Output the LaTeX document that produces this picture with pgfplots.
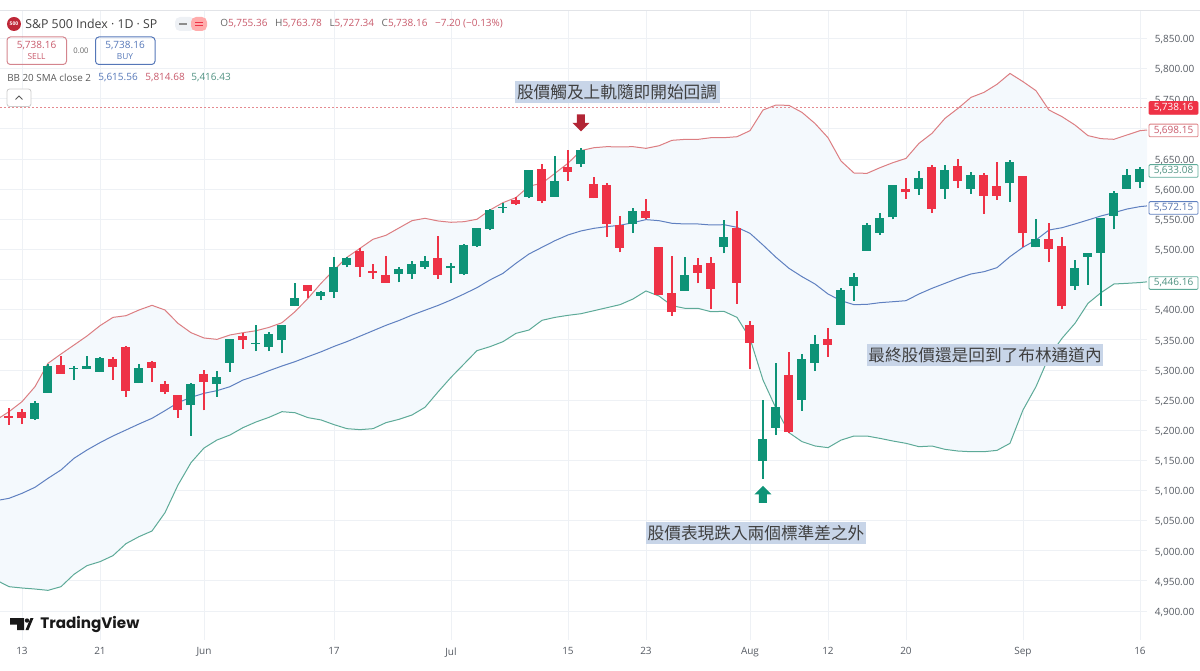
\documentclass[border=0pt]{standalone}
\usepackage{fontspec}
\usepackage{pgfplots}
\usepackage{pgfplotstable}
\pgfplotsset{compat=1.18}
\usepgfplotslibrary{fillbetween}
\setmainfont{Open Sans}
\newfontfamily\cjk{Noto Sans CJK TC}
\newfontfamily\logofont{Poppins}

\definecolor{cup}{HTML}{0E9377}
\definecolor{cdn}{HTML}{EE3246}
\definecolor{bandup}{HTML}{DC7E82}
\definecolor{bandlo}{HTML}{5DAA98}
\definecolor{bandmid}{HTML}{5F80C0}
\definecolor{bandfill}{HTML}{F4F9FD}
\definecolor{gridc}{HTML}{EEF1F5}
\definecolor{topline}{HTML}{E2E4E8}
\definecolor{tickc}{HTML}{555A62}
\definecolor{noteb}{HTML}{C8D5E8}
\definecolor{headred}{HTML}{C85A6B}
\definecolor{headblue}{HTML}{5577B8}
\definecolor{lastline}{HTML}{E58A8F}

% i open high low close
\pgfplotstableread{
i o h l c
-2 5186 5214 5184 5211
1 5219 5248 5217 5244.5
2 5262 5310 5262 5307
4 5301 5306 5283 5302.6
5 5302 5323 5301 5307
6 5297 5322 5296.5 5320
9 5279 5310 5278 5303
13 5241 5279 5191 5276
15 5276.6 5298 5255.5 5289
16 5312 5352 5297 5351.8
18 5343 5374.5 5331 5345
19 5338.6 5363.5 5331 5359
20 5349.6 5374 5327.5 5374
21 5406.6 5445 5406 5418.8
23 5422.7 5431.6 5416 5430
24 5428.8 5487 5419 5471.4
25 5474 5488 5470 5485
29 5459 5470 5445.4 5467
30 5459 5481 5451 5475
31 5470.8 5489 5468 5480.8
33 5468.6 5478 5445 5473
34 5458.7 5508.4 5457.6 5507.3
35 5505 5536 5504.6 5536
36 5534.4 5566.5 5532 5565.4
37 5569.2 5577.6 5561 5570
39 5587.6 5632.4 5584.8 5632.4
41 5587.6 5655 5587.6 5613.6
43 5641 5667.8 5637 5665
47 5542 5568 5528 5563
51 5431 5487 5431 5457
54 5504 5548.8 5493.5 5520.6
57 5148.9 5250 5119 5184.8
58 5204.2 5311 5192 5239
60 5250.6 5326 5232.4 5317.6
61 5312 5358 5299 5342.5
63 5374.6 5435.4 5374.6 5432.7
64 5439.9 5460.3 5414.4 5454
65 5498 5543 5498 5541
66 5527.8 5560 5524 5551.6
67 5553.3 5607 5550 5607
69 5600.3 5630.7 5590.3 5618.5
71 5600.3 5640 5584 5632.4
73 5600.3 5629 5592 5624
76 5609.7 5648.4 5579.3 5645.6
78 5503.5 5550.5 5503.5 5518
81 5439.9 5482.4 5433.2 5468.6
82 5487.4 5494.6 5441 5493.5
83 5494.6 5551.6 5406 5551.6
84 5555.5 5597.5 5533.4 5594
85 5600.3 5633 5600 5624
86 5612.4 5636 5602.5 5633
}\upcandles

\pgfplotstableread{
i o h l c
-1 5224 5236 5209 5221
0 5230.7 5234.5 5210.2 5219.6
3 5308 5323 5294 5294
7 5317.5 5322 5284 5305
8 5338.6 5339 5255.5 5265.5
10 5313.7 5314 5280.5 5303.7
11 5277 5281.6 5260 5263.9
12 5257.8 5258 5220.7 5233.4
14 5294 5300 5233 5280.5
17 5356 5360.7 5335 5349.6
22 5440.4 5441 5419 5431
26 5497.4 5501.8 5454.8 5471.4
27 5464.7 5475 5451 5461.4
28 5457.6 5489 5445 5444.8
32 5486 5522 5451 5457.6
38 5582 5587.6 5573 5574.8
40 5633.5 5641 5576.5 5580.9
42 5636.8 5665 5613.6 5629
44 5608 5619.6 5584.8 5584.8
45 5607 5611 5521 5542.2
46 5541 5556 5495.2 5502.4
48 5563 5583.7 5550 5551.6
49 5504.6 5504.6 5424.4 5424.4
50 5427 5489 5390 5396
52 5474.7 5485 5443.7 5461.4
53 5477.5 5488 5400.6 5435
55 5536 5564.3 5410 5444.3
56 5374.6 5381 5301 5344.7
59 5292 5329.8 5196 5197.5
62 5350.8 5369 5322 5342
68 5600.8 5619 5583.7 5594.7
70 5636.8 5640 5560 5567
72 5637.9 5650 5601.4 5613.6
74 5623.5 5626 5558.8 5589
75 5605.3 5645.6 5582 5589.2
77 5621.8 5621.8 5503.5 5526.7
79 5518 5543 5478.6 5501.3
80 5505.7 5521 5401 5406
}\downcandles

% i upper basis lower
\pgfplotstableread{
i up mid lo
-2 5216.8 5083 4951.4
-1 5230.7 5086.9 4940.3
0 5247.3 5095.2 4938.1
1 5272.2 5105.2 4936.4
2 5310.9 5120.1 4934.2
3 5326.4 5134 4940.3
4 5341.3 5153.3 4960.8
5 5356.3 5167.1 4975.2
6 5373.4 5179.3 4981.8
7 5387.2 5190.4 4991.8
8 5390 5200.3 5011.7
9 5399.4 5210.3 5023.3
10 5407.2 5219.7 5032.7
11 5399.4 5232.4 5063.1
12 5377.3 5245.7 5109
13 5361.8 5254.5 5146.1
14 5353 5261.2 5170.4
15 5350.7 5265.6 5183.7
16 5358 5272.2 5192
17 5361.8 5283.2 5204.2
18 5365 5290.4 5213.6
19 5370.6 5298.7 5221.3
20 5378.4 5306.5 5230.7
21 5396.6 5313.7 5229
22 5418.8 5322 5220.8
23 5443.7 5330 5217
24 5465.8 5339 5209.2
25 5486.9 5347 5202.5
26 5501.8 5356 5200.9
27 5516.8 5365 5202.5
28 5523.4 5374 5212.5
29 5535.6 5382 5218
30 5547.7 5391 5225.2
31 5551.6 5399 5238
32 5547.2 5407 5263.4
33 5545 5416 5287.7
34 5546 5426 5309.8
35 5550 5436.5 5332
36 5565.4 5449.3 5338.6
37 5577.6 5460.3 5346.9
38 5586 5477 5360.7
39 5605 5492.4 5366.2
40 5609.7 5503.5 5382.3
41 5626.3 5514.5 5387.2
42 5643 5524 5390.6
43 5664 5530.6 5393.3
44 5668.8 5535 5398.3
45 5670.5 5537.8 5403.3
46 5670 5540 5408.3
47 5670.5 5544.4 5417.7
48 5667.7 5549.4 5431
49 5672 5547.7 5422.6
50 5681 5543.3 5406.6
51 5682.6 5542.2 5402.2
52 5682.6 5542.2 5402.2
53 5685.4 5540.5 5396.6
54 5685.4 5541 5397.2
55 5687 5536.7 5387.2
56 5697 5526.7 5352.4
57 5731.3 5507.3 5283.3
58 5739.6 5486.9 5236.3
59 5739 5468.6 5195.9
60 5727.4 5454.8 5181
61 5709 5442.6 5173.8
62 5685.4 5426 5171
63 5646.7 5414.9 5183.5
64 5626.8 5408.3 5190.3
65 5626.2 5408.8 5190.3
66 5635.6 5411.6 5186.4
67 5644 5413.2 5182
68 5651 5414.9 5178.2
69 5676 5426 5172.6
70 5692.6 5435.4 5173.7
71 5717.5 5443.7 5168.2
72 5734 5452 5165.4
73 5752.3 5459.2 5164.3
74 5760.6 5463 5164.3
75 5774 5469.7 5166.5
76 5792 5488 5178.2
77 5778.4 5503.5 5233.5
78 5763.4 5515.6 5272.2
79 5731.3 5532.2 5322
80 5720.3 5536 5352.4
81 5706.4 5542.2 5377.3
82 5688.8 5548.8 5410.5
83 5683.8 5555.5 5428.2
84 5682.7 5561 5442.6
85 5689.9 5567 5443.7
86 5697 5571 5445
86.54 5698.15 5572.15 5446.16
}\bands

\pgfdeclareplotmark{dnarrow}{%
  \pgfpathmoveto{\pgfqpoint{-2.4pt}{5.1pt}}\pgfpathlineto{\pgfqpoint{2.4pt}{5.1pt}}%
  \pgfpathlineto{\pgfqpoint{2.4pt}{0pt}}\pgfpathlineto{\pgfqpoint{5.1pt}{0pt}}%
  \pgfpathlineto{\pgfqpoint{0pt}{-5.1pt}}\pgfpathlineto{\pgfqpoint{-5.1pt}{0pt}}%
  \pgfpathlineto{\pgfqpoint{-2.4pt}{0pt}}\pgfpathclose\pgfusepathqfill}
\pgfdeclareplotmark{uparrow}{%
  \pgfpathmoveto{\pgfqpoint{-2.4pt}{-5.1pt}}\pgfpathlineto{\pgfqpoint{2.4pt}{-5.1pt}}%
  \pgfpathlineto{\pgfqpoint{2.4pt}{0pt}}\pgfpathlineto{\pgfqpoint{5.1pt}{0pt}}%
  \pgfpathlineto{\pgfqpoint{0pt}{5.1pt}}\pgfpathlineto{\pgfqpoint{-5.1pt}{0pt}}%
  \pgfpathlineto{\pgfqpoint{-2.4pt}{0pt}}\pgfpathclose\pgfusepathqfill}

\newcommand{\wicks}[2]{\addplot[draw=none, no markers, forget plot,
    error bars/.cd, y dir=plus, y explicit, error mark=none,
    error bar style={draw=#2, line width=0.7pt, solid}]
    table[x=i, y=l, y error plus expr=\thisrow{h}-\thisrow{l}] {#1};}
\newcommand{\bodies}[4]{\addplot[draw=none, no markers, forget plot,
    error bars/.cd, y dir=plus, y explicit, error mark=none,
    error bar style={draw=#2, line width=5.4pt, solid}]
    table[x=i, y=#3, y error plus expr=\thisrow{#4}-\thisrow{#3}] {#1};}
\newcommand{\pricetag}[5]{% y, fill, border, text colour, label
  \node[draw=#3, fill=#2, text=#4, font=\fontsize{6pt}{6pt}\selectfont, line width=0.5pt,
    rounded corners=0.6pt, minimum width=29.4pt, minimum height=7.6pt, inner sep=0pt]
    at (1173.5,#1) {#5};}
\newcommand{\note}[4]{\node[fill=noteb, text=black!75, font=\cjk\fontsize{10pt}{10pt}\selectfont,
    minimum width=#3, minimum height=13pt, inner sep=0pt] at (#1,#2) {#4};}

\begin{document}
\begin{tikzpicture}
\begin{axis}[
    at={(0pt,18pt)}, anchor=south west,
    scale only axis, width=688.2pt, height=378pt,
    xmin=-1.692, xmax=86.54, ymin=4851.8, ymax=5897.3,
    axis line style={draw=none},
    major tick length=0pt,
    grid=major, grid style={gridc, line width=0.5pt},
    xtick={0,6,14,24,33,42,48,56,62,68,77,86},
    xticklabels={13,21,Jun,17,Jul,15,23,Aug,12,20,Sep,16},
    ytick={4900,4950,...,5850},
    % 5,450 and 5,700 sit wholly behind the price tags on the right
    yticklabels={{4,900.00},{4,950.00},{5,000.00},{5,050.00},{5,100.00},{5,150.00},{5,200.00},{5,250.00},{5,300.00},{5,350.00},{5,400.00},{},{5,500.00},{5,550.00},{5,600.00},{5,650.00},{},{5,750.00},{5,800.00},{5,850.00}},
    yticklabel pos=right,
    tick label style={font=\fontsize{6pt}{6pt}\selectfont, text=tickc},
    xticklabel style={yshift=-1pt},
    yticklabel style={xshift=1.2pt, yshift=-0.8pt},
    clip=true,
]
  \addplot[name path=up, bandup, line width=0.6pt, forget plot] table[x=i, y=up] {\bands};
  \addplot[name path=lo, bandlo, line width=0.6pt, forget plot] table[x=i, y=lo] {\bands};
  \addplot[bandfill, forget plot] fill between[of=up and lo];
  \addplot[bandmid, line width=0.6pt, forget plot] table[x=i, y=mid] {\bands};
  \addplot[lastline, line width=0.6pt, dash pattern=on 1.2pt off 1.2pt, forget plot] coordinates {(-1.692,5736) (86.54,5736)};

  \wicks{\upcandles}{cup}
  \wicks{\downcandles}{cdn}
  \bodies{\upcandles}{cup}{o}{c}
  \bodies{\downcandles}{cdn}{c}{o}

  \addplot[only marks, mark=dnarrow, color=black, mark options={fill=cdn!75!black, draw=none}, forget plot] coordinates {(43,5709.8)};
  \addplot[only marks, mark=uparrow, color=black, mark options={fill=cup, draw=none}, forget plot] coordinates {(57,5093.3)};
\end{axis}

% everything below is chart chrome, positions in image pixels from the top left
\pgfresetboundingbox
\path[use as bounding box] (0,0) rectangle (720pt,402pt);
\begin{scope}[x=0.6pt, y=-0.6pt, yshift=402pt]
  \draw[topline, line width=0.5pt] (0,10) -- (1200,10);

  \note{617}{92}{123pt}{股價觸及上軌隨即開始回調}
  \note{985}{355}{141.5pt}{最終股價還是回到了布林通道內}
  \note{756}{533}{132pt}{股價表現跌入兩個標準差之外}

  \pricetag{108}{cdn}{cdn}{white}{5,738.16}
  \pricetag{130.5}{white}{bandup}{headred}{5,698.15}
  \pricetag{171}{white}{bandlo}{bandlo!85!black}{5,633.08}
  \pricetag{208}{white}{bandmid}{bandmid!90!black}{5,572.15}
  \pricetag{283}{white}{bandlo}{bandlo!85!black}{5,446.16}

  % header
  \fill[cdn!80!black] (14,24) circle[radius=7];
  \node[text=white, font=\fontsize{3pt}{3pt}\selectfont\bfseries] at (14,24) {500};
  \node[anchor=west, inner sep=0pt, text=black!75, font=\fontsize{7.4pt}{7.4pt}\selectfont] at (25,24) {S\&P 500 Index · 1D · SP};
  \fill[gridc, rounded corners=3pt] (175,17) rectangle (195,31);
  \fill[pink!90!red, rounded corners=3pt] (191,17) rectangle (207,31);
  \fill[black!45] (179,23) rectangle (187,25.5);
  \draw[cdn, line width=0.6pt] (195,22.5) -- (203,22.5) (195,25.5) -- (203,25.5);
  \node[anchor=west, inner sep=0pt, text=headred, font=\fontsize{6pt}{6pt}\selectfont] at (220,24)
    {\textcolor{black!60}{O}5,755.36\hspace{3pt} \textcolor{black!60}{H}5,763.78\hspace{3pt} \textcolor{black!60}{L}5,727.34\hspace{3pt} \textcolor{black!60}{C}5,738.16\hspace{3pt} −7.20 (−0.13\%)};

  \draw[cdn!60!gray!70, line width=0.6pt, rounded corners=2pt] (7,37) rectangle (66.5,64.5);
  \node[text=headred, font=\fontsize{6pt}{6pt}\selectfont] at (36.5,45.5) {5,738.16};
  \node[text=headred, font=\fontsize{5pt}{5pt}\selectfont] at (36.5,57) {SELL};
  \node[text=black!60, font=\fontsize{4.6pt}{5pt}\selectfont] at (81,51) {0.00};
  \draw[headblue, line width=0.6pt, rounded corners=2pt] (95.5,37) rectangle (155,64.5);
  \node[text=headblue, font=\fontsize{6pt}{6pt}\selectfont] at (125,45.5) {5,738.16};
  \node[text=headblue, font=\fontsize{5pt}{5pt}\selectfont] at (125,57) {BUY};

  \node[anchor=west, inner sep=0pt, font=\fontsize{5.9pt}{6pt}\selectfont, text=black!65] at (7,78) {BB 20 SMA close 2};
  \node[anchor=west, inner sep=0pt, font=\fontsize{6pt}{6pt}\selectfont, text=headblue] at (98,78) {5,615.56};
  \node[anchor=west, inner sep=0pt, font=\fontsize{6pt}{6pt}\selectfont, text=headred] at (145,78) {5,814.68};
  \node[anchor=west, inner sep=0pt, font=\fontsize{6pt}{6pt}\selectfont, text=bandlo!85!black] at (191,78) {5,416.43};
  \draw[black!20, line width=0.5pt, fill=white, rounded corners=1.5pt] (7,89) rectangle (31,106.5);
  \draw[black!65, line width=0.6pt] (15.5,99.5) -- (19,96) -- (22.5,99.5);

  % TradingView logo
  \fill[black!90] (10,618) -- (24,618) -- (24,630) -- (17,630) -- (17,624.5) -- (10,624.5) -- cycle;
  \fill[black!90] (27,620.5) circle[radius=2.2];
  \fill[black!90] (33.5,618) -- (28.5,630) -- (25.5,630) -- (30.5,618) -- cycle;
  \node[anchor=west, inner sep=0pt, text=black!90, font=\logofont\bfseries\fontsize{9.1pt}{9.1pt}\selectfont] at (40,625) {TradingView};
\end{scope}
\end{tikzpicture}
\end{document}
